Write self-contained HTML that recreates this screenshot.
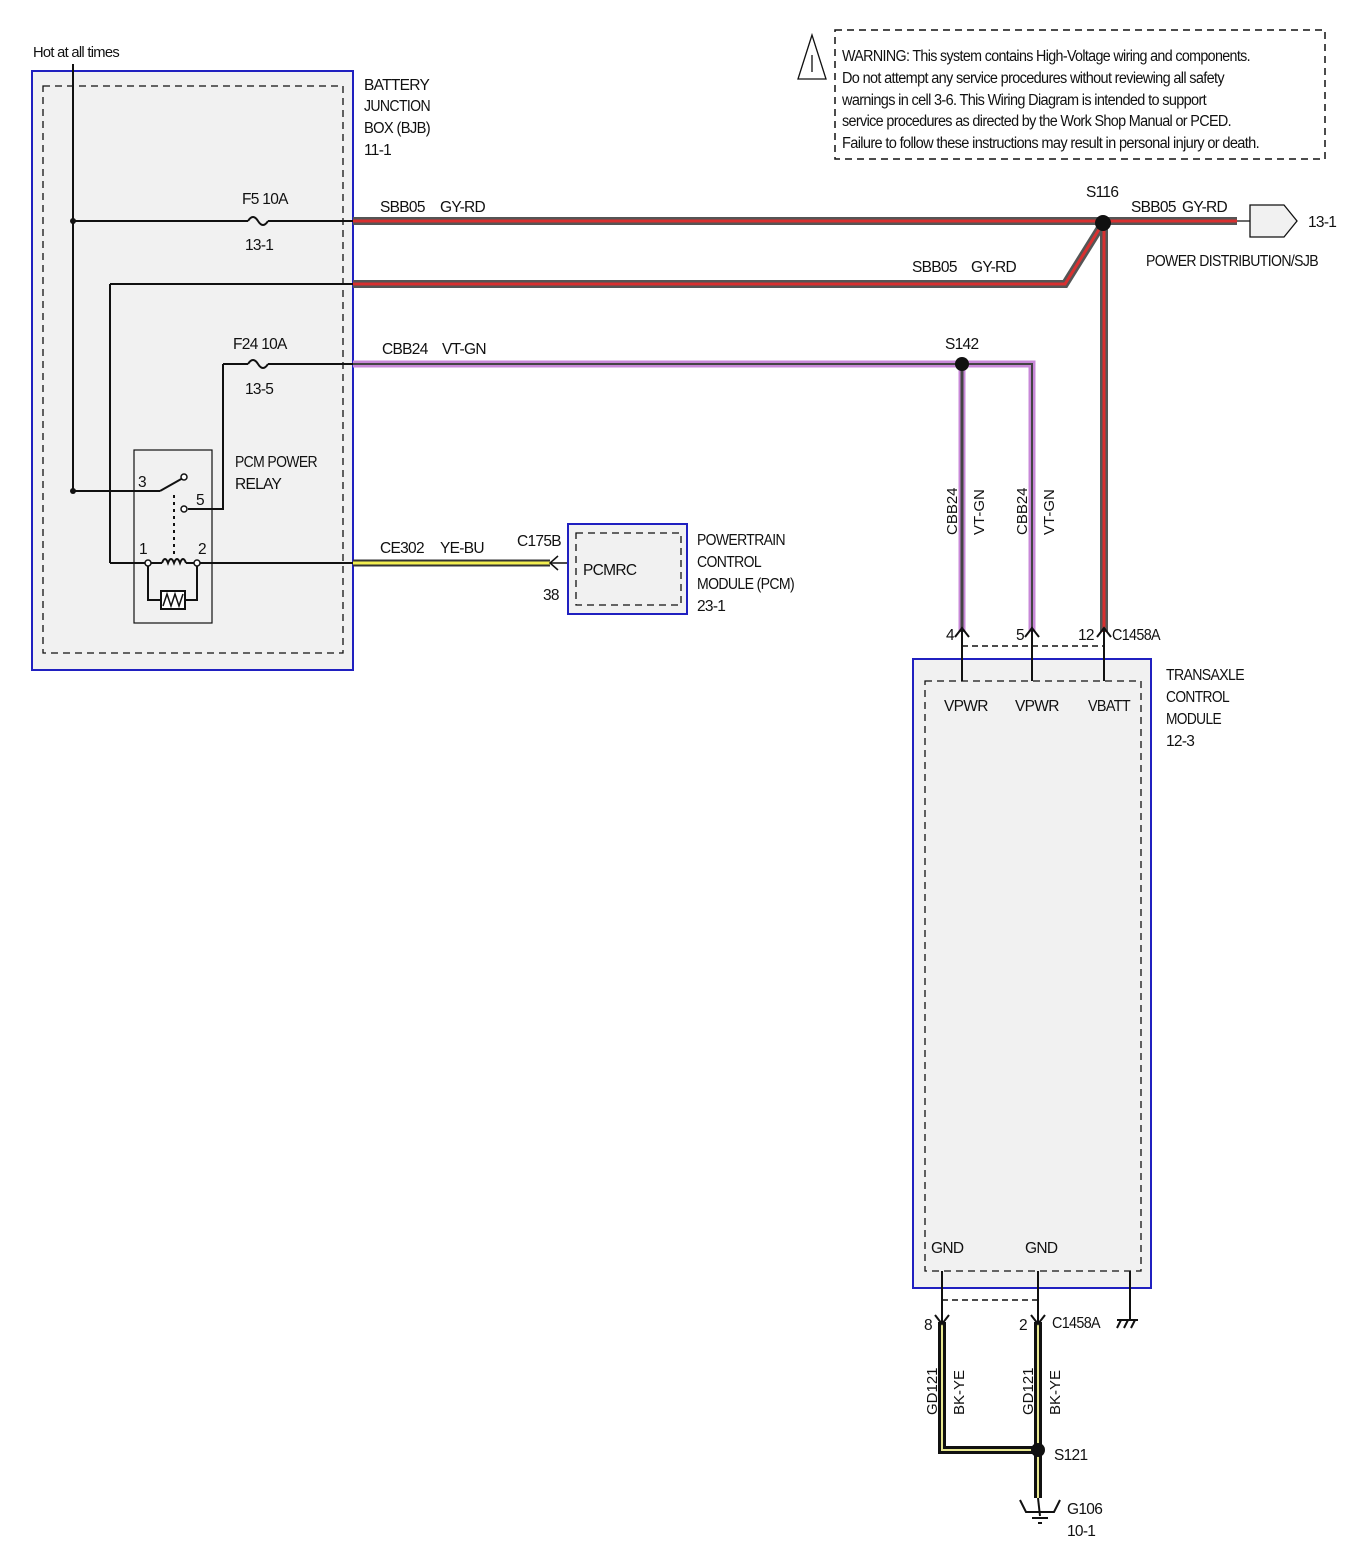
<!DOCTYPE html>
<html><head><meta charset="utf-8"><style>
html,body{margin:0;padding:0;background:#fff;}
svg{display:block;}
text{font-family:"Liberation Sans Narrow","Liberation Sans",sans-serif;font-size:15.5px;letter-spacing:-0.7px;fill:#111;}
.s{font-size:14.5px;}
.v{font-family:"Liberation Sans",sans-serif;font-size:15px;letter-spacing:0;}
</style></head><body>
<svg width="1350" height="1561" viewBox="0 0 1350 1561" xmlns="http://www.w3.org/2000/svg">
<!-- warning -->
<rect x="835" y="30" width="490" height="129" fill="none" stroke="#111" stroke-width="1.5" stroke-dasharray="7,5"/>
<polygon points="812,35 798,79 826,79" fill="none" stroke="#111" stroke-width="1.3"/>
<line x1="812" y1="55" x2="812" y2="72" stroke="#111" stroke-width="1.3"/>
<text x="842" y="61" textLength="408" lengthAdjust="spacingAndGlyphs">WARNING: This system contains High-Voltage wiring and components.</text>
<text x="842" y="83" textLength="382" lengthAdjust="spacingAndGlyphs">Do not attempt any service procedures without reviewing all safety</text>
<text x="842" y="105" textLength="364" lengthAdjust="spacingAndGlyphs">warnings in cell 3-6. This Wiring Diagram is intended to support</text>
<text x="842" y="126" textLength="389" lengthAdjust="spacingAndGlyphs">service procedures as directed by the Work Shop Manual or PCED.</text>
<text x="842" y="148" textLength="417" lengthAdjust="spacingAndGlyphs">Failure to follow these instructions may result in personal injury or death.</text>

<!-- BJB -->
<text x="33" y="57" class="s" textLength="86" lengthAdjust="spacingAndGlyphs">Hot at all times</text>
<rect x="32" y="71" width="321" height="599" fill="#f1f1f1" stroke="#2020c0" stroke-width="2"/>
<rect x="43" y="86" width="300" height="567" fill="none" stroke="#111" stroke-width="1.3" stroke-dasharray="7,5"/>
<text x="364" y="90">BATTERY</text><text x="364" y="111" textLength="66" lengthAdjust="spacingAndGlyphs">JUNCTION</text><text x="364" y="133" textLength="66" lengthAdjust="spacingAndGlyphs">BOX (BJB)</text><text x="364" y="155">11-1</text>

<g stroke="#111" stroke-width="2" fill="none">
<line x1="73" y1="64" x2="73" y2="491"/>
<line x1="73" y1="221" x2="248" y2="221"/><path d="M248,221 q5,-8 10,0 q5,8 10,0"/><line x1="268" y1="221" x2="353" y2="221"/>
<line x1="110" y1="284" x2="353" y2="284"/>
<line x1="110" y1="284" x2="110" y2="563"/>
<line x1="223" y1="364" x2="248" y2="364"/><path d="M248,364 q5,-8 10,0 q5,8 10,0"/><line x1="268" y1="364" x2="353" y2="364"/>
<polyline points="223,364 223,509 188,509"/>
<line x1="73" y1="491" x2="160" y2="491"/>
<line x1="160" y1="491" x2="183" y2="478"/>
<line x1="110" y1="563" x2="146" y2="563"/>
<line x1="199" y1="563" x2="353" y2="563"/>
<path d="M162,563 q3,-8 6,0 q3,-8 6,0 q3,-8 6,0 q3,-8 6,0"/>
<line x1="146" y1="563" x2="162" y2="563"/><line x1="186" y1="563" x2="199" y2="563"/>
<polyline points="148,563 148,600 197,600 197,563"/>
</g>
<rect x="134" y="450" width="78" height="173" fill="none" stroke="#111" stroke-width="1.2"/>
<rect x="161" y="591" width="24" height="18" fill="#fff" stroke="#111" stroke-width="2"/>
<polyline points="163,606 167,594 171,606 175,594 179,606 183,594" fill="none" stroke="#111" stroke-width="1.5"/>
<line x1="174" y1="495" x2="174" y2="556" stroke="#111" stroke-width="2" stroke-dasharray="3,4"/>
<circle cx="184" cy="477" r="3" fill="#fff" stroke="#111" stroke-width="1.5"/>
<circle cx="184" cy="509" r="3" fill="#fff" stroke="#111" stroke-width="1.5"/>
<circle cx="148" cy="563" r="3" fill="#fff" stroke="#111" stroke-width="1.5"/>
<circle cx="197" cy="563" r="3" fill="#fff" stroke="#111" stroke-width="1.5"/>
<circle cx="73" cy="221" r="3" fill="#111"/><circle cx="73" cy="491" r="3" fill="#111"/>
<text x="138" y="487">3</text><text x="196" y="505">5</text><text x="139" y="554">1</text><text x="198" y="554">2</text>
<text x="235" y="467" textLength="82" lengthAdjust="spacingAndGlyphs">PCM POWER</text><text x="235" y="489">RELAY</text>
<text x="242" y="204">F5  10A</text><text x="245" y="250">13-1</text>
<text x="233" y="349">F24  10A</text><text x="245" y="394">13-5</text>

<!-- wires -->
<g fill="none" stroke-linejoin="miter">
<polyline points="353,221 1103,221 1237,221" stroke="#555" stroke-width="8"/>
<polyline points="353,221 1103,221 1237,221" stroke="#d83030" stroke-width="3"/>
<polyline points="353,284 1065,284 1103,223" stroke="#555" stroke-width="8"/>
<polyline points="353,284 1065,284 1103,223" stroke="#d83030" stroke-width="3"/>
<line x1="1104" y1="223" x2="1104" y2="632" stroke="#555" stroke-width="8"/>
<line x1="1104" y1="223" x2="1104" y2="632" stroke="#d83030" stroke-width="3"/>
<polyline points="353,364 1032,364 1032,632" stroke="#c888d8" stroke-width="7"/>
<polyline points="353,364 1032,364 1032,632" stroke="#444" stroke-width="2"/>
<line x1="962" y1="364" x2="962" y2="632" stroke="#c888d8" stroke-width="7"/>
<line x1="962" y1="364" x2="962" y2="632" stroke="#444" stroke-width="3"/>
<line x1="353" y1="563" x2="550" y2="563" stroke="#333" stroke-width="7"/>
<line x1="353" y1="563" x2="550" y2="563" stroke="#f2ee50" stroke-width="3"/>
<polyline points="942,1322 942,1450 1038,1450" stroke="#111" stroke-width="8"/>
<polyline points="942,1322 942,1450 1038,1450" stroke="#e8e890" stroke-width="2"/>
<line x1="1038" y1="1322" x2="1038" y2="1498" stroke="#111" stroke-width="8"/>
<line x1="1038" y1="1322" x2="1038" y2="1498" stroke="#e8e890" stroke-width="2"/>
</g>
<circle cx="1103" cy="223" r="8" fill="#111"/>
<circle cx="962" cy="364" r="7" fill="#111"/>
<circle cx="1038" cy="1450" r="7" fill="#111"/>
<text x="380" y="212">SBB05</text><text x="440" y="212">GY-RD</text>
<text x="912" y="272">SBB05</text><text x="971" y="272">GY-RD</text>
<text x="1086" y="197">S116</text>
<text x="1131" y="212">SBB05</text><text x="1182" y="212">GY-RD</text>
<polygon points="1237,221 1250,221 1250,205 1284,205 1297,221 1284,237 1250,237 1250,221" fill="#f1f1f1" stroke="#111" stroke-width="1.3"/>
<text x="1308" y="227">13-1</text>
<text x="1146" y="266" textLength="172" lengthAdjust="spacingAndGlyphs">POWER DISTRIBUTION/SJB</text>
<text x="382" y="354">CBB24</text><text x="442" y="354">VT-GN</text>
<text x="945" y="349">S142</text>
<text class="v" transform="translate(957,535) rotate(-90)">CBB24</text>
<text class="v" transform="translate(984,535) rotate(-90)">VT-GN</text>
<text class="v" transform="translate(1027,535) rotate(-90)">CBB24</text>
<text class="v" transform="translate(1054,535) rotate(-90)">VT-GN</text>
<text class="v" transform="translate(937,1415) rotate(-90)">GD121</text>
<text class="v" transform="translate(964,1415) rotate(-90)">BK-YE</text>
<text class="v" transform="translate(1033,1415) rotate(-90)">GD121</text>
<text class="v" transform="translate(1060,1415) rotate(-90)">BK-YE</text>
<text x="380" y="553">CE302</text><text x="440" y="553">YE-BU</text>
<text x="517" y="546">C175B</text><text x="543" y="600">38</text>
<path d="M558,556 L550,563 L558,570" fill="none" stroke="#111" stroke-width="1.5"/>
<line x1="550" y1="563" x2="568" y2="563" stroke="#111" stroke-width="1.5"/>

<!-- PCM -->
<rect x="568" y="524" width="119" height="90" fill="#f1f1f1" stroke="#2020c0" stroke-width="2"/>
<rect x="576" y="533" width="105" height="72" fill="none" stroke="#111" stroke-width="1.3" stroke-dasharray="7,5"/>
<text x="583" y="575">PCMRC</text>
<text x="697" y="545" textLength="88" lengthAdjust="spacingAndGlyphs">POWERTRAIN</text><text x="697" y="567" textLength="64" lengthAdjust="spacingAndGlyphs">CONTROL</text><text x="697" y="589" textLength="97" lengthAdjust="spacingAndGlyphs">MODULE (PCM)</text><text x="697" y="611">23-1</text>

<!-- TCM -->
<rect x="913" y="659" width="238" height="629" fill="#f1f1f1" stroke="#2020c0" stroke-width="2"/>
<rect x="925" y="681" width="216" height="590" fill="none" stroke="#111" stroke-width="1.3" stroke-dasharray="7,5"/>
<line x1="962" y1="646" x2="1104" y2="646" stroke="#111" stroke-width="1.5" stroke-dasharray="6,4"/>
<g stroke="#111" stroke-width="2" fill="none">
<line x1="962" y1="628" x2="962" y2="681"/><path d="M955,637 L962,628 L969,637"/>
<line x1="1032" y1="628" x2="1032" y2="681"/><path d="M1025,637 L1032,628 L1039,637"/>
<line x1="1104" y1="628" x2="1104" y2="681"/><path d="M1097,637 L1104,628 L1111,637"/>
<line x1="942" y1="1271" x2="942" y2="1324"/><path d="M935,1315 L942,1324 L949,1315"/>
<line x1="1038" y1="1271" x2="1038" y2="1324"/><path d="M1031,1315 L1038,1324 L1045,1315"/>
<line x1="1130" y1="1271" x2="1130" y2="1320"/>
<line x1="1117" y1="1320" x2="1138" y2="1320"/>
<path d="M1121,1320 l-4,8 M1128,1320 l-4,8 M1135,1320 l-4,8"/>
<path d="M1020,1500 L1026,1512 L1054,1512 L1060,1500"/>
<line x1="1038" y1="1498" x2="1040" y2="1516"/>
<line x1="1032" y1="1518" x2="1048" y2="1518"/>
<line x1="1038" y1="1523" x2="1042" y2="1523"/>
</g>
<line x1="942" y1="1300" x2="1038" y2="1300" stroke="#111" stroke-width="1.5" stroke-dasharray="6,4"/>
<text x="946" y="640">4</text><text x="1016" y="640">5</text><text x="1078" y="640">12</text><text x="1112" y="640" textLength="48" lengthAdjust="spacingAndGlyphs">C1458A</text>
<text x="944" y="711">VPWR</text><text x="1015" y="711">VPWR</text><text x="1088" y="711" textLength="42" lengthAdjust="spacingAndGlyphs">VBATT</text>
<text x="1166" y="680" textLength="78" lengthAdjust="spacingAndGlyphs">TRANSAXLE</text><text x="1166" y="702" textLength="63" lengthAdjust="spacingAndGlyphs">CONTROL</text><text x="1166" y="724" textLength="55" lengthAdjust="spacingAndGlyphs">MODULE</text><text x="1166" y="746">12-3</text>
<text x="931" y="1253">GND</text><text x="1025" y="1253">GND</text>
<text x="924" y="1330">8</text><text x="1019" y="1330">2</text><text x="1052" y="1328" textLength="48" lengthAdjust="spacingAndGlyphs">C1458A</text>
<text x="1054" y="1460">S121</text>
<text x="1067" y="1514">G106</text><text x="1067" y="1536">10-1</text>
</svg>
</body></html>
